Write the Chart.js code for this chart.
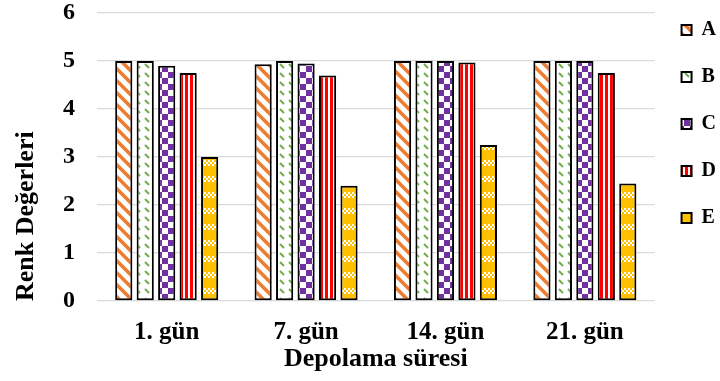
<!DOCTYPE html>
<html>
<head>
<meta charset="utf-8">
<script src="https://cdn.jsdelivr.net/npm/chart.js@4"></script>
<style>
  body { margin: 0; background: #fff; }
  #wrap { width: 720px; height: 381px; }
</style>
</head>
<body>
<div id="wrap"><canvas id="chart"></canvas></div>
<script>
// ======= DADOS =======
const gunler = ["1. gün", "7. gün", "14. gün", "21. gün"];
const seriA = [5.0, 4.93, 5.0, 5.0];
const seriB = [5.0, 5.0, 5.0, 5.0];
const seriC = [4.9, 4.95, 5.0, 5.0];
const seriD = [4.75, 4.7, 4.97, 4.75];
const seriE = [3.0, 2.4, 3.25, 2.45];
const yTicks = [0, 1, 2, 3, 4, 5, 6];

const fontAna = "'Liberation Serif', 'Times New Roman', serif";

// ======= DESENLER (patterns) =======
function desen(w, h, ciz) {
  const c = document.createElement("canvas");
  c.width = w; c.height = h;
  const g = c.getContext("2d");
  ciz(g);
  return g.createPattern(c, "repeat");
}

const ctx = document.getElementById("chart").getContext("2d");

// A: turuncu çapraz şeritler
const desenA = desen(12, 12, g => {
  g.fillStyle = "#fff"; g.fillRect(0, 0, 12, 12);
  g.strokeStyle = "#ED7D31"; g.lineWidth = 3.6;
  g.beginPath();
  g.moveTo(-6, -6); g.lineTo(18, 18);
  g.moveTo(-6, 6); g.lineTo(6, 18);
  g.moveTo(6, -6); g.lineTo(18, 6);
  g.stroke();
});

// B: yeşil kesik çapraz çizgiler
const desenB = desen(9, 9, g => {
  g.fillStyle = "#fff"; g.fillRect(0, 0, 9, 9);
  g.strokeStyle = "#70AD47"; g.lineWidth = 2;
  g.beginPath();
  g.moveTo(1, 1); g.lineTo(5, 5);
  g.stroke();
});

// C: mor dama
const desenC = desen(12, 12, g => {
  g.fillStyle = "#fff"; g.fillRect(0, 0, 12, 12);
  g.fillStyle = "#7030A0";
  g.fillRect(0, 0, 6, 6); g.fillRect(6, 6, 6, 6);
});

// D: kırmızı dikey şeritler
const desenD = desen(5, 5, g => {
  g.fillStyle = "#fff"; g.fillRect(0, 0, 5, 5);
  g.fillStyle = "#FF0000"; g.fillRect(0, 0, 3, 5);
});

// E: sarı ekose
const desenE = desen(8, 16, g => {
  g.fillStyle = "#FFC000"; g.fillRect(0, 0, 8, 16);
  g.fillStyle = "#fff";
  for (let i = 0; i < 4; i++) {
    for (let j = 0; j < 3; j++) {
      if ((i + j) % 2 === 0) g.fillRect(i * 2, j * 2, 2, 2);
    }
  }
});

// ======= GRÁFICO =======
const seri = (etiket, veri, desen) => ({
  label: etiket,
  data: veri,
  backgroundColor: desen,
  borderColor: "#000",
  borderWidth: 2,
  borderSkipped: false
});

new Chart(ctx, {
  type: "bar",
  data: {
    labels: gunler,
    datasets: [
      seri("A", seriA, desenA),
      seri("B", seriB, desenB),
      seri("C", seriC, desenC),
      seri("D", seriD, desenD),
      seri("E", seriE, desenE)
    ]
  },
  options: {
    responsive: true,
    maintainAspectRatio: false,
    animation: false,
    layout: { padding: { top: -7, right: -6, bottom: 9, left: 13 } },
    datasets: { bar: { categoryPercentage: 0.77, barPercentage: 0.8 } },
    plugins: {
      tooltip: { enabled: false },
      legend: {
        position: "right",
        align: "start",
        labels: {
          color: "#000",
          font: { family: fontAna, size: 20, weight: "bold" },
          boxWidth: 10,
          boxHeight: 10,
          padding: 27
        }
      }
    },
    scales: {
      x: {
        grid: { display: false },
        border: { display: false },
        ticks: {
          color: "#000",
          padding: 11,
          font: { family: fontAna, size: 25, weight: "bold", lineHeight: 1 }
        },
        title: {
          display: true,
          text: "Depolama süresi",
          color: "#000",
          padding: { top: -10, bottom: 0 },
          font: { family: fontAna, size: 26, weight: "bold", lineHeight: 1 }
        }
      },
      y: {
        min: 0,
        max: 6,
        afterBuildTicks: ax => { ax.ticks = yTicks.map(v => ({ value: v })); },
        // tick padding'in üst boşluğu büyütmesini engelle
        afterFit: ax => { ax.paddingTop = 13; ax.paddingBottom = 12; },
        grid: { color: "#d9d9d9", lineWidth: 1.3, drawTicks: false },
        border: { display: false },
        ticks: {
          color: "#000",
          padding: 22,
          font: { family: fontAna, size: 24, weight: "bold", lineHeight: 1 }
        },
        title: {
          display: true,
          text: "Renk Değerleri",
          align: "start",
          color: "#000",
          padding: { top: 0, bottom: 2 },
          font: { family: fontAna, size: 26, weight: "bold", lineHeight: 1 }
        }
      }
    }
  }
});
</script>
</body>
</html>
